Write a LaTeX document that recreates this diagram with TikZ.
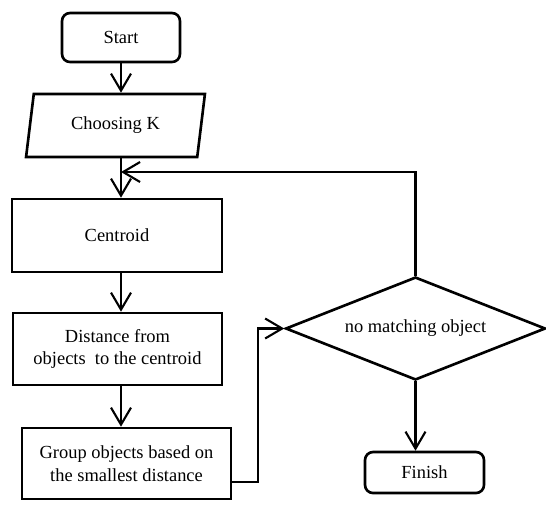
\documentclass[tikz,border=0pt]{standalone}
\usepackage{fontspec}
\setmainfont{Liberation Serif}
\usepackage{tikz}
\usetikzlibrary{shapes,calc,arrows.meta,positioning}

\begin{document}
\begin{tikzpicture}[x=0.02cm,y=-0.02cm,
    box/.style={draw,line width=1.5pt,align=center,inner sep=0pt,font=\fontsize{10.5}{13}\selectfont},
    term/.style={box,rounded corners=0.16cm},
    flow/.style={line width=1.2pt,-{Straight Barb[length=0.34cm,width=0.4cm,line width=1.2pt]}}]
                \useasboundingbox (0,0) rectangle (546,505);
                \node[term,minimum width=2.36cm,minimum height=0.98cm] (start) at (121,37.5) {Start};
                \node[box,trapezium,trapezium left angle=76,trapezium right angle=104,trapezium stretches=true,
                      minimum width=3.58cm,minimum height=1.26cm] (choose) at (115.5,125.5) {Choosing K};
                \node[box,minimum width=4.2cm,minimum height=1.46cm] (centroid) at (117,235.5) {Centroid};
                \node[box,minimum width=4.18cm,minimum height=1.44cm] (dist) at (117.5,349) {Distance from\\objects\ \ to the centroid};
                \node[box,minimum width=4.18cm,minimum height=1.42cm] (group) at (126.5,463.5) {Group objects based on\\the smallest distance};
                \node[box,diamond,aspect=2.5,minimum width=5.2cm,minimum height=2.06cm] (decide) at (415.5,328.5) {no matching object};
                \node[term,minimum width=2.38cm,minimum height=0.82cm] (finish) at (424.5,472.5) {Finish};
                \coordinate (merge) at (121,172);
                \coordinate (turn) at (258,482);
                \draw[flow] (start) -- (start |- choose.north);
                \draw[flow] (start |- choose.south) -- (start |- centroid.north);
                \draw[flow] (start |- centroid.south) -- (start |- dist.north);
                \draw[flow] (start |- dist.south) -- (start |- group.north);
                \draw[flow] (turn -| group.east) -- (turn) |- (decide.west);
                \draw[flow] (decide.north) |- (merge);
                \draw[flow] (decide.south) -- (decide |- finish.north);
            \end{tikzpicture}
\end{document}
